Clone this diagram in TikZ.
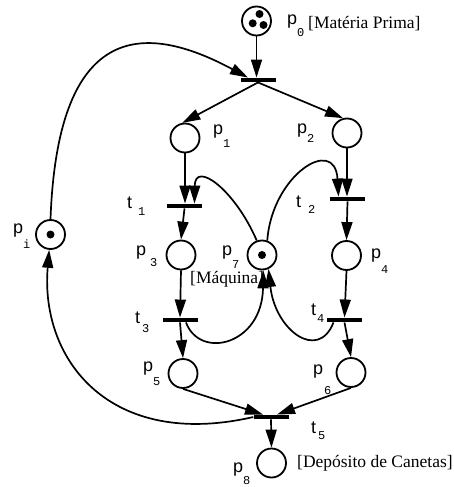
\documentclass[tikz,border=0pt]{standalone}
\usepackage{fontspec}
\newfontfamily\labsans{Liberation Sans}
\newfontfamily\labmono{Liberation Mono}
\newfontfamily\labserif{Liberation Serif}
\usetikzlibrary{arrows.meta}
% letter, subscript, drop of subscript, gap
\newcommand{\pl}[4]{{\labsans\fontsize{18}{20}\selectfont #1}\hspace{#4pt}\raisebox{-#3pt}{\labmono\fontsize{12}{14}\selectfont #2}}

\begin{document}
\begin{tikzpicture}[x=1pt, y=-1pt,
    place/.style={circle, draw, line width=1.8pt, minimum size=29pt, inner sep=0pt},
    trans/.style={rectangle, fill=black, minimum width=35pt, minimum height=4.5pt, inner sep=0pt},
    arc/.style={-{Triangle[length=18pt, width=11pt]}, line width=1.7pt},
    lbl/.style={anchor=base west, inner sep=0pt},
    txt/.style={anchor=base west, inner sep=0pt, font=\labserif\fontsize{17.5}{20}\selectfont}
  ]
  \useasboundingbox (0,0) rectangle (454,487);

  % places
  \node[place] (p0) at (256.5,21) {};
  \node[place] (p1) at (185,138) {};
  \node[place] (p2) at (347,133) {};
  \node[place] (pi) at (50.5,234.5) {};
  \node[place] (p3) at (181,255) {};
  \node[place] (p7) at (262,255) {};
  \node[place] (p4) at (346.5,255.5) {};
  \node[place] (p5) at (183,373.5) {};
  \node[place] (p6) at (351,372.5) {};
  \node[place] (p8) at (271.5,463) {};

  % tokens
  \fill (259.5,14) circle (4pt);
  \fill (252.7,23.3) circle (4pt);
  \fill (263.5,25) circle (4pt);
  \fill (p7) circle (4pt);
  \fill (pi) circle (4pt);

  % transitions
  \node[trans] (t0) at (258,80) {};
  \node[trans] (t1) at (184.5,206) {};
  \node[trans] (t2) at (347.5,199) {};
  \node[trans] (t3) at (180,320) {};
  \node[trans] (t4) at (344.5,320) {};
  \node[trans] (t5) at (271,417) {};

  % labels
  \node[lbl] (lp0) at (287,25) {\pl{p}{0}{12}{0}};
  \node[txt] (mp) at (308,29) {[Matéria Prima]};
  \node[lbl] (lp1) at (213,134) {\pl{p}{1}{13}{0}};
  \node[lbl] (lp2) at (297,133) {\pl{p}{2}{9}{0}};
  \node[lbl] (lt1) at (127,208) {\pl{t}{1}{7}{6}};
  \node[lbl] (lt2) at (296,207) {\pl{t}{2}{6}{7}};
  \node[lbl] (lpi) at (13,233) {\pl{p}{i}{15}{0}};
  \node[lbl] (lp3) at (136,255) {\pl{p}{3}{11}{4}};
  \node[lbl] (lp7) at (222,255) {\pl{p}{7}{13}{0}};
  \node[txt] (maq) at (190,283) {[Máquina]};
  \node[lbl] (lp4) at (371,258) {\pl{p}{4}{15}{0}};
  \node[lbl] (lt3) at (135,323) {\pl{t}{3}{9}{2}};
  \node[lbl] (lt4) at (311,315) {\pl{t}{4}{7}{1}};
  \node[lbl] (lp5) at (143,371) {\pl{p}{5}{14}{0}};
  \node[lbl] (lp6) at (313,374) {\pl{p}{6}{20}{1}};
  \node[lbl] (lt5) at (311,433) {\pl{t}{5}{6}{2}};
  \node[lbl] (lp8) at (233,472) {\pl{p}{8}{12}{0}};
  \node[txt] (dep) at (297,467) {[Depósito de Canetas]};

  % arcs
  \draw[arc] (p0.south) -- (p0.south |- t0.north);
  \draw[arc] (t0.south) -- (p1.100);
  \draw[arc] (t0.south) -- (p2.105);
  \draw[arc] (p1.south) -- (p1.south |- t1.north);
  \draw[arc] (p2.south) -- (p2.south |- t2.north);
  \draw[arc] (p7.110) .. controls (235,190) and (195,160) .. ([xshift=10pt]t1.north);
  \draw[arc] (p7.70) .. controls (272,175) and (335,135) .. ([xshift=-9pt]t2.north);
  \draw[arc] (t1.south) -- (p3.north);
  \draw[arc] (t2.south) -- (p4.north);
  \draw[arc] (p3.south) -- (t3.north);
  \draw[arc] (p4.south) -- (t4.north);
  \draw[arc] (t3.south) -- (p5.north);
  \draw[arc] (t4.south) -- (p6.north);
  \draw[arc] ([xshift=6pt]t3.south) .. controls (200,360) and (262,345) .. (p7.275);
  \draw[arc] ([xshift=-11pt]t4.south) .. controls (318,362) and (275,330) .. (p7.295);
  \draw[arc] (p5.south) -- ([xshift=-8pt]t5.north);
  \draw[arc] (p6.south) -- ([xshift=6pt]t5.north);
  \draw[arc] (t5.south) -- (p8.north);
  \draw[arc] (t5.west) .. controls (110,450) and (40,360) .. (pi.265);
  \draw[arc] (pi.north) .. controls (58,15) and (150,25) .. ([xshift=-10pt]t0.north);
\end{tikzpicture}
\end{document}
